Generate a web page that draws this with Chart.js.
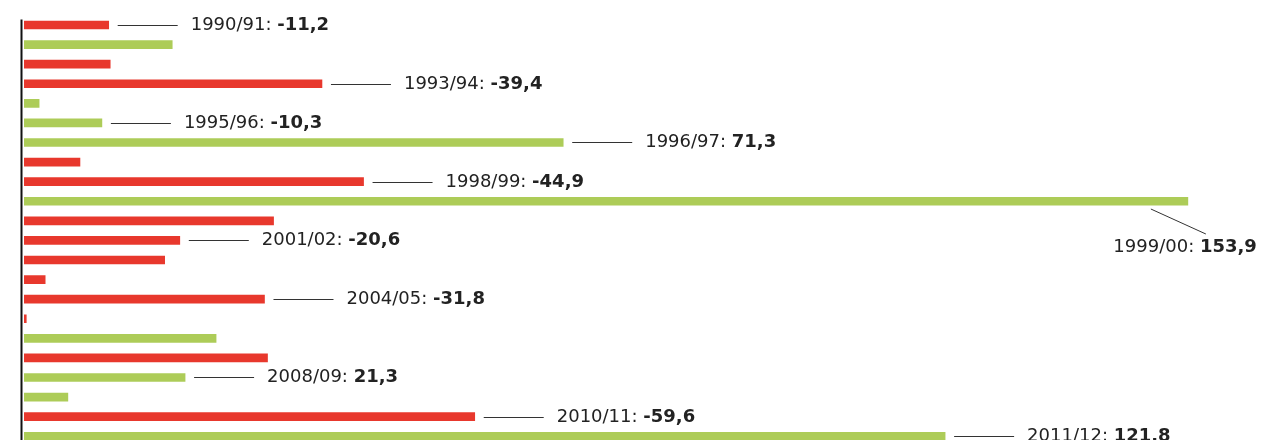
<!DOCTYPE html>
<html>
<head>
<meta charset="utf-8">
<script src="https://cdn.jsdelivr.net/npm/chart.js@4/dist/chart.umd.min.js"></script>
<style>
  html, body { margin: 0; padding: 0; background: #fff; overflow: hidden; }
  #wrap { width: 1269px; height: 446px; }
</style>
</head>
<body>
<div id="wrap"><canvas id="c" width="1269" height="446"></canvas></div>
<script>
// Seasons and yearly change
const seasons = ['1990/91','1991/92','1992/93','1993/94','1994/95','1995/96','1996/97','1997/98',
  '1998/99','1999/00','2000/01','2001/02','2002/03','2003/04','2004/05','2005/06','2006/07',
  '2007/08','2008/09','2009/10','2010/11','2011/12'];
const changes = [-11.2, 19.6, -11.4, -39.4, 2.0, -10.3, 71.3, -7.4, -44.9, 153.9, -33.0, -20.6,
  -18.6, -2.8, -31.8, -0.3, 25.4, -32.2, 21.3, 5.8, -59.6, 121.8];
// r = decline bar, g = growth bar
const tones = ['r','g','r','r','g','g','g','r','r','g','r','r','r','r','r','r','g','r','g','g','r','g'];
// Seasons that carry a value callout
const callouts = ['1990/91','1993/94','1995/96','1996/97','1998/99','1999/00','2001/02','2004/05',
  '2008/09','2010/11','2011/12'];
const belowCallout = '1999/00';

const RED = '#e8382d';
const GREEN = '#adcc58';
const FONT = "'DejaVu Sans', Verdana, sans-serif";

const fmt = v => v.toFixed(1).replace('.', ',');

const annotate = {
  id: 'annotate',
  afterDatasetsDraw(chart) {
    const ctx = chart.ctx;
    const xs = chart.scales.x, ys = chart.scales.y;
    ctx.save();
    // vertical axis line
    ctx.strokeStyle = '#111';
    ctx.lineWidth = 2;
    ctx.beginPath();
    ctx.moveTo(21.5, 19.5);
    ctx.lineTo(21.5, chart.height);
    ctx.stroke();

    ctx.lineWidth = 1;
    ctx.strokeStyle = '#333';
    ctx.fillStyle = '#222';
    callouts.forEach(s => {
      const i = seasons.indexOf(s);
      const v = changes[i];
      const end = xs.getPixelForValue(Math.abs(v));
      const cy = Math.round(ys.getPixelForValue(i));
      const head = s + ': ';
      const val = fmt(v);
      ctx.font = '18px ' + FONT;
      const wHead = ctx.measureText(head).width;
      ctx.font = 'bold 18px ' + FONT;
      const wVal = ctx.measureText(val).width;
      let tx, ty;
      if (s === belowCallout) {
        ctx.beginPath();
        ctx.moveTo(end - 37, cy + 8);
        ctx.lineTo(end + 18, cy + 33);
        ctx.stroke();
        tx = end + 69 - (wHead + wVal);
        ty = cy + 51;
      } else {
        ctx.beginPath();
        ctx.moveTo(end + 9, cy + 0.5);
        ctx.lineTo(end + 69, cy + 0.5);
        ctx.stroke();
        tx = end + 82;
        ty = cy + 4.5;
      }
      ctx.textBaseline = 'alphabetic';
      ctx.textAlign = 'left';
      ctx.font = '18px ' + FONT;
      ctx.fillText(head, tx, ty);
      ctx.font = 'bold 18px ' + FONT;
      ctx.fillText(val, tx + wHead, ty);
    });
    ctx.restore();
  }
};

new Chart(document.getElementById('c'), {
  type: 'bar',
  data: {
    labels: seasons,
    datasets: [{
      data: changes.map(v => Math.abs(v)),
      backgroundColor: tones.map(t => t === 'r' ? RED : GREEN),
      borderWidth: 0,
      barThickness: 8,
      categoryPercentage: 1,
      barPercentage: 1
    }]
  },
  options: {
    indexAxis: 'y',
    responsive: false,
    animation: false,
    layout: { padding: { left: 24, right: 35, top: 15.2, bottom: 0 } },
    plugins: { legend: { display: false }, tooltip: { enabled: false } },
    scales: {
      x: { display: false, min: 0, max: 160 },
      y: { display: false }
    }
  },
  plugins: [annotate]
});
</script>
</body>
</html>
